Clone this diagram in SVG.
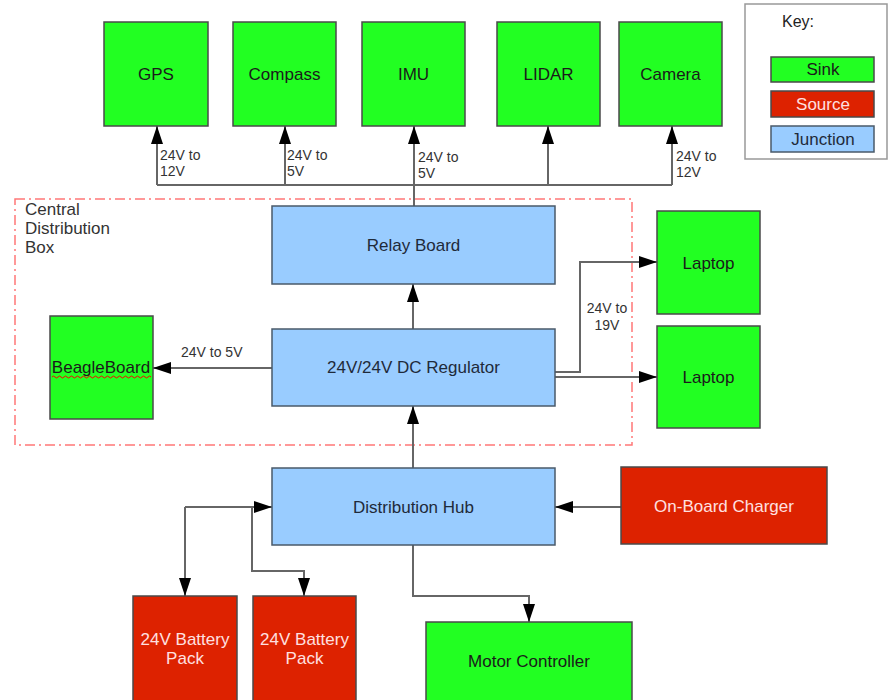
<svg xmlns="http://www.w3.org/2000/svg" width="888" height="700" viewBox="0 0 888 700">
  <defs>
    <marker id="arrow" viewBox="0 0 18 12" refX="18" refY="6" markerWidth="18" markerHeight="12" markerUnits="userSpaceOnUse" orient="auto">
      <path d="M0,0 L18,6 L0,12 Z" fill="#000"/>
    </marker>
  </defs>
  <style>
    text { font-family: "Liberation Sans", Arial, sans-serif; }
    .sink { fill: #22ff22; stroke: #4a4a4a; stroke-width: 1.5; }
    .source { fill: #dd2200; stroke: #4a4a4a; stroke-width: 1.5; }
    .junction { fill: #99ccff; stroke: #4a5a6a; stroke-width: 1.5; }
    .t { font-size: 17px; text-anchor: middle; }
    .tsink { fill: #1a1a1a; }
    .tsource { fill: #ffe0e0; }
    .tjunc { fill: #1f2a3a; }
    .lbl { font-size: 14px; fill: #333; }
    .wire { fill: none; stroke: #666; stroke-width: 2; }
    .boxline { fill: none; stroke: #ff7777; stroke-width: 1.5; stroke-dasharray: 10 4 2 4; }
    .title { font-size: 17px; fill: #333; }
  </style>

  <rect width="888" height="700" fill="#fff"/>

  <!-- Central distribution enclosure -->
  <g id="central-box">
    <rect class="boxline" x="15" y="199" width="617" height="246"/>
    <text class="title" x="25" y="215">Central</text>
    <text class="title" x="25" y="234">Distribution</text>
    <text class="title" x="25" y="253">Box</text>
  </g>

  <!-- Legend -->
  <g id="key">
    <rect x="745" y="4" width="142" height="155" fill="#fff" stroke="#999" stroke-width="1.5"/>
    <text x="782" y="27" font-size="16" fill="#222">Key:</text>
    <rect class="sink" x="771" y="57" width="103" height="25"/>
    <text class="t tsink" x="823" y="75" font-size="16">Sink</text>
    <rect class="source" x="771" y="91" width="103" height="26"/>
    <text class="t tsource" x="823" y="110">Source</text>
    <rect class="junction" x="771" y="126" width="103" height="26"/>
    <text class="t tjunc" x="823" y="145">Junction</text>
  </g>

  <!-- Connectors -->
  <g id="connectors">
    <!-- sensor bus -->
    <path class="wire" d="M157,185 H672"/>
    <path class="wire" d="M414,206 V126" marker-end="url(#arrow)"/>
    <path class="wire" d="M157,185 V126" marker-end="url(#arrow)"/>
    <path class="wire" d="M285,185 V126" marker-end="url(#arrow)"/>
    <path class="wire" d="M548,185 V126" marker-end="url(#arrow)"/>
    <path class="wire" d="M672,185 V126" marker-end="url(#arrow)"/>
    <text class="lbl" x="160" y="160">24V to</text>
    <text class="lbl" x="160" y="176">12V</text>
    <text class="lbl" x="287" y="160">24V to</text>
    <text class="lbl" x="287" y="176">5V</text>
    <text class="lbl" x="418" y="162">24V to</text>
    <text class="lbl" x="418" y="178">5V</text>
    <text class="lbl" x="676" y="161">24V to</text>
    <text class="lbl" x="676" y="177">12V</text>

    <!-- regulator to relay board -->
    <path class="wire" d="M413,329 V284" marker-end="url(#arrow)"/>
    <!-- regulator to BeagleBoard -->
    <path class="wire" d="M272,368 H153" marker-end="url(#arrow)"/>
    <text class="lbl" x="181" y="357">24V to 5V</text>
    <!-- regulator to laptops -->
    <path class="wire" d="M555,372 H580 V262 H657" marker-end="url(#arrow)"/>
    <path class="wire" d="M555,377 H657" marker-end="url(#arrow)"/>
    <text class="lbl" x="607" y="313" text-anchor="middle">24V to</text>
    <text class="lbl" x="607" y="330" text-anchor="middle">19V</text>

    <!-- hub to regulator -->
    <path class="wire" d="M413,468 V406" marker-end="url(#arrow)"/>
    <!-- charger to hub -->
    <path class="wire" d="M621,507 H555" marker-end="url(#arrow)"/>
    <!-- batteries to/from hub -->
    <path class="wire" d="M185,507 H272" marker-end="url(#arrow)"/>
    <path class="wire" d="M185,507 V596" marker-end="url(#arrow)"/>
    <path class="wire" d="M252,507 V571 H304 V596" marker-end="url(#arrow)"/>
    <!-- hub to motor controller -->
    <path class="wire" d="M413,545 V596 H529 V622" marker-end="url(#arrow)"/>
  </g>

  <!-- Sensors -->
  <g id="gps">
    <rect class="sink" x="104" y="22" width="104" height="104"/>
    <text class="t tsink" x="156" y="80">GPS</text>
  </g>
  <g id="compass">
    <rect class="sink" x="233" y="22" width="103" height="104"/>
    <text class="t tsink" x="284.5" y="80">Compass</text>
  </g>
  <g id="imu">
    <rect class="sink" x="362" y="22" width="103" height="104"/>
    <text class="t tsink" x="413.5" y="80">IMU</text>
  </g>
  <g id="lidar">
    <rect class="sink" x="497" y="22" width="103" height="104"/>
    <text class="t tsink" x="548.5" y="80">LIDAR</text>
  </g>
  <g id="camera">
    <rect class="sink" x="619" y="22" width="103" height="104"/>
    <text class="t tsink" x="670.5" y="80">Camera</text>
  </g>

  <!-- Junctions -->
  <g id="relay-board">
    <rect class="junction" x="272" y="206" width="283" height="78"/>
    <text class="t tjunc" x="413.5" y="251">Relay Board</text>
  </g>
  <g id="dc-regulator">
    <rect class="junction" x="272" y="329" width="283" height="77"/>
    <text class="t tjunc" x="413.5" y="373">24V/24V DC Regulator</text>
  </g>
  <g id="distribution-hub">
    <rect class="junction" x="272" y="468" width="283" height="77"/>
    <text class="t tjunc" x="413.5" y="513">Distribution Hub</text>
  </g>

  <!-- Loads -->
  <g id="beagleboard">
    <rect class="sink" x="50" y="316" width="103" height="103"/>
    <text class="t tsink" x="101" y="373">BeagleBoard</text>
    <!-- spell-check squiggle under the label -->
    <path d="M52,377 q1.5,-2 3,0 t3,0 t3,0 t3,0 t3,0 t3,0 t3,0 t3,0 t3,0 t3,0 t3,0 t3,0 t3,0 t3,0 t3,0 t3,0 t3,0 t3,0 t3,0 t3,0 t3,0 t3,0 t3,0 t3,0 t3,0 t3,0 t3,0 t3,0 t3,0 t3,0 t3,0 t3,0 t3,0" fill="none" stroke="#ff0000" stroke-width="1"/>
  </g>
  <g id="laptop-1">
    <rect class="sink" x="657" y="211" width="103" height="103"/>
    <text class="t tsink" x="708.5" y="269">Laptop</text>
  </g>
  <g id="laptop-2">
    <rect class="sink" x="657" y="326" width="103" height="102"/>
    <text class="t tsink" x="708.5" y="383">Laptop</text>
  </g>
  <g id="motor-controller">
    <rect class="sink" x="426" y="622" width="206" height="80"/>
    <text class="t tsink" x="529" y="667">Motor Controller</text>
  </g>

  <!-- Sources -->
  <g id="charger">
    <rect class="source" x="621" y="467" width="206" height="77"/>
    <text class="t tsource" x="724" y="512">On-Board Charger</text>
  </g>
  <g id="battery-1">
    <rect class="source" x="133" y="596" width="104" height="106"/>
    <text class="t tsource" x="185" y="645">24V Battery</text>
    <text class="t tsource" x="185" y="664">Pack</text>
  </g>
  <g id="battery-2">
    <rect class="source" x="253" y="596" width="103" height="106"/>
    <text class="t tsource" x="304.5" y="645">24V Battery</text>
    <text class="t tsource" x="304.5" y="664">Pack</text>
  </g>
</svg>
